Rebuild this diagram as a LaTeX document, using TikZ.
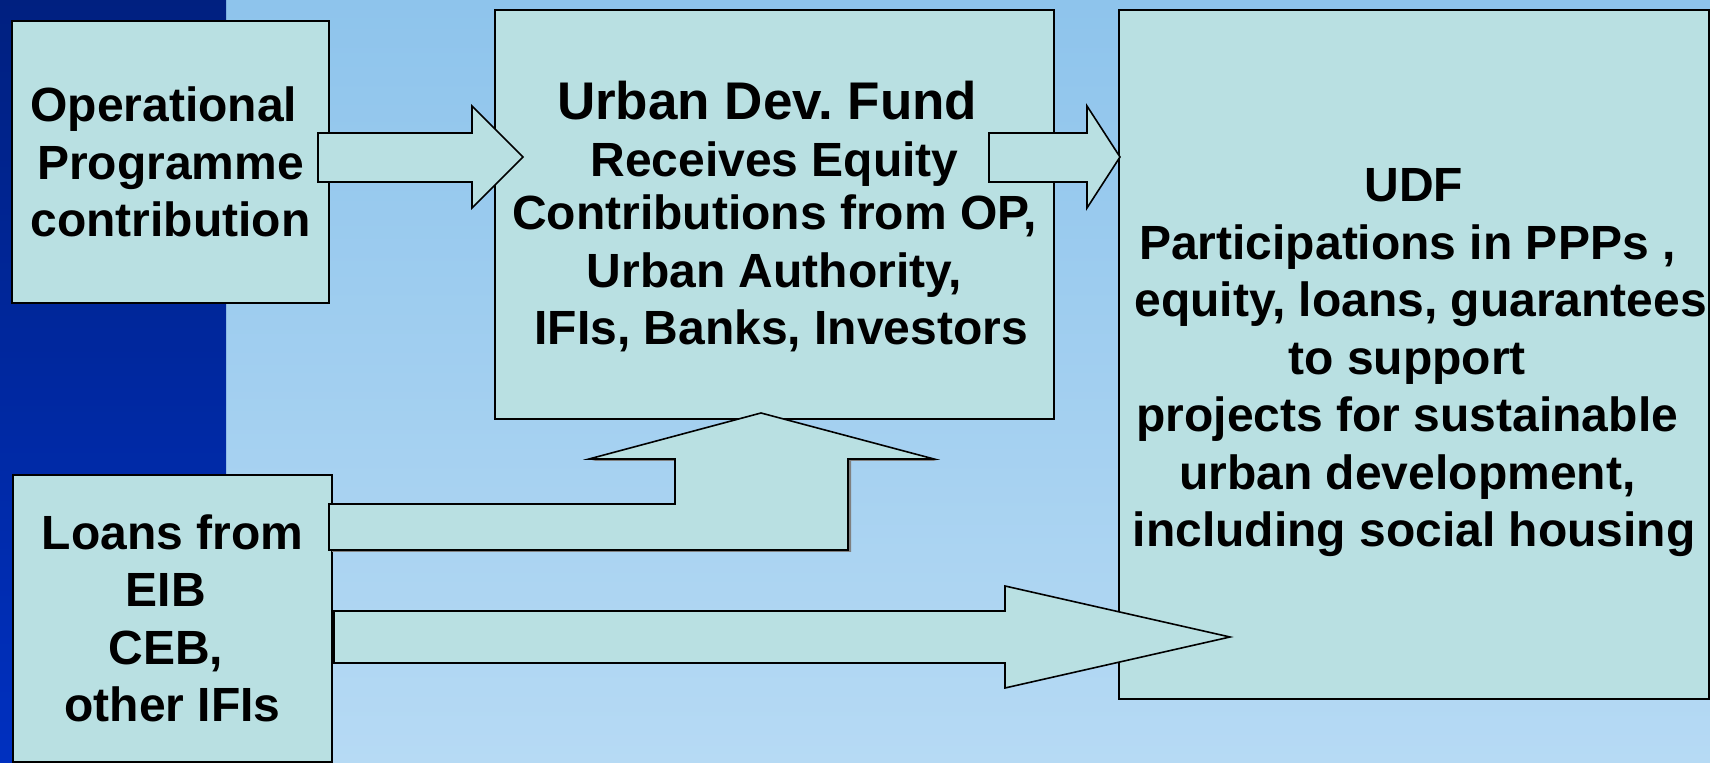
\documentclass[tikz,border=0pt]{standalone}
\usepackage{fontspec}
\setmainfont{Liberation Sans}
\definecolor{boxfill}{RGB}{185,224,226}
\definecolor{bgtop}{RGB}{142,196,236}
\definecolor{bgbot}{RGB}{182,218,244}
\definecolor{bandtop}{RGB}{0,32,128}
\definecolor{bandbot}{RGB}{0,48,192}
\definecolor{shadowgray}{RGB}{128,128,128}
\newcommand{\myspc}{\kern0.278em}
\frenchspacing
\begin{document}
\begin{tikzpicture}[x=0.5pt,y=-0.5pt,
  box/.style={draw=black, line width=1pt, fill=boxfill, inner sep=0pt, anchor=north west},
  boxtext/.style={align=center, inner sep=0pt, font=\bfseries\frenchspacing\fontsize{24}{28.75}\selectfont},
  blockarrow/.style={draw=black, line width=0.8pt, fill=boxfill, line join=miter},
  shadowarrow/.style={fill=shadowgray}]
\useasboundingbox (0,0) rectangle (1710,763);
% background
\shade[top color=bgtop, bottom color=bgbot] (0,0) rectangle (1710,763);
\shade[top color=bandtop, bottom color=bandbot] (0,0) rectangle (226,763);
% boxes
\node[box, minimum width=158.5pt, minimum height=141pt] (op) at (11,20) {};
\node[box, minimum width=279.5pt, minimum height=204.5pt] (udf) at (494,9) {};
\node[box, minimum width=295pt, minimum height=344.5pt] (out) at (1118,9) {};
\node[box, minimum width=159.5pt, minimum height=143.5pt] (loans) at (12,474) {};
% texts
\node[boxtext] (optext) at (op.center) {Operational\myspc\\Programme\\contribution};
\node[boxtext, yshift=-1.1pt] (udftext) at (udf.center)
  {{\fontsize{26.5}{30}\selectfont Urban Dev. Fund\myspc}\\Receives Equity\\[-2.2pt]Contributions from OP,\\Urban Authority,\\\myspc IFIs, Banks, Investors};
\node[boxtext, yshift=-4.2pt] (outtext) at (out.center)
  {UDF\\Participations in PPPs ,\myspc\\\myspc equity, loans, guarantees\\to support\myspc\\projects for sustainable\myspc\\urban development,\myspc\\including social housing};
\node[boxtext] (loanstext) at (loans.center) {Loans from\\EIB\myspc\\CEB,\myspc\\other IFIs};
% block arrows
\draw[blockarrow] (318,133) -- (472,133) -- (472,106) -- (523,157) -- (472,208) -- (472,182) -- (318,182) -- cycle;
\draw[blockarrow] (989,133) -- (1087,133) -- (1087,106) -- (1120,157) -- (1087,208) -- (1087,182) -- (989,182) -- cycle;
\fill[shadowarrow, shift={(3,2)}] (329,504) -- (675,504) -- (675,459) -- (589,459) -- (761,413) -- (934,459) -- (848,459) -- (848,550) -- (329,550) -- cycle;
\draw[blockarrow] (329,504) -- (675,504) -- (675,459) -- (589,459) -- (761,413) -- (934,459) -- (848,459) -- (848,550) -- (329,550) -- cycle;
\draw[blockarrow] (334,611) -- (1005,611) -- (1005,586) -- (1230,637) -- (1005,688) -- (1005,663) -- (334,663) -- cycle;
\end{tikzpicture}
\end{document}
